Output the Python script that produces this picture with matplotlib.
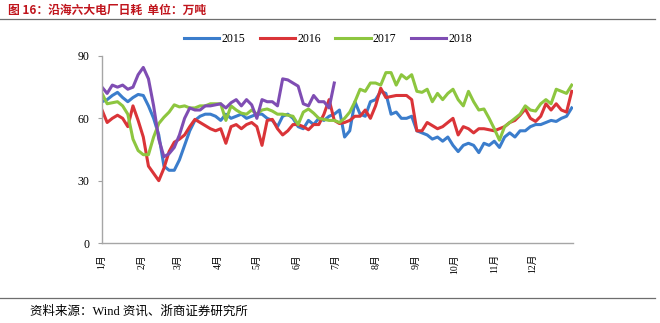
import matplotlib
matplotlib.use('Agg')
import matplotlib.pyplot as plt
from matplotlib.lines import Line2D

# day-of-year sample points (every 4 days)
days = list(range(0, 365, 4))
days_2018 = list(range(0, 181, 4))

coal_2015 = [68, 69, 71, 72.5, 70, 68, 70, 71.5, 71, 66, 60, 52, 37, 35, 35, 40,
             47, 54, 59, 61, 62, 62, 61, 59, 62, 60, 61, 62, 60, 61, 62, 62,
             60, 59, 56, 61, 62, 60, 56, 55, 59, 57, 60, 59, 61, 62, 64, 51,
             54, 68, 62, 61, 68, 69, 73, 72, 62, 63, 60, 60, 61, 54, 53, 52,
             50, 51, 49, 51, 47, 44, 47, 48, 47, 43.5, 48, 47, 49, 46, 51, 53,
             51, 54, 54, 56, 57, 57, 58, 59, 58.5, 60, 61, 65]

coal_2016 = [64, 58, 60, 61.5, 60, 56, 66, 59, 51, 37, 33.5, 30, 36, 44, 48.5, 50,
             52, 56, 59.5, 58, 56.5, 55, 54, 55, 48, 56, 57, 55, 57, 58, 56, 47,
             59, 59.5, 55, 52, 54, 57, 57, 56, 54.5, 57, 57, 62, 69, 59, 57.5, 58,
             59, 61, 61, 64, 60, 66, 74.5, 70, 70.5, 71, 71, 71, 69, 54, 54, 58,
             56.5, 55, 56, 58, 60, 52, 56, 55, 53, 55, 55, 54.5, 54, 55, 56, 58,
             59, 61.5, 64.5, 60, 58.5, 61, 67, 64, 67, 64, 63, 73]

coal_2017 = [72, 67, 67.5, 68, 66, 62, 50, 44.5, 42.5, 42.5, 51, 57.5, 60.5, 63, 66.5, 65.5,
             66, 65, 65, 66, 66, 67, 67, 67, 59, 66, 64, 62.5, 62, 64, 62, 64,
             64.5, 63.5, 62, 62, 61.5, 61, 57, 63, 64.5, 62.5, 60, 59.5, 59, 59, 58, 60,
             63, 68, 74, 73, 77, 77, 76, 82, 82, 76, 81, 79, 81, 73, 72.5, 74,
             68, 72, 69, 72, 74, 69, 66, 73, 68, 64, 64.5, 60, 55, 49.5, 56, 58,
             60, 62, 66, 64, 63.5, 67, 69, 67, 74, 73, 72, 76]

coal_2018 = [75, 72, 76, 75, 76, 74, 75, 81, 84.5, 79, 66, 50, 41.5, 43, 46, 52,
             60, 65, 64, 64, 66, 66, 66.5, 67, 65, 67.5, 69, 66, 69, 66.5, 60, 69,
             68, 68, 66, 79, 78.5, 77, 75.5, 67, 66, 71, 68, 68, 65, 77]

month_starts = [0, 31, 59, 90, 120, 151, 181, 212, 243, 273, 304, 334]
month_labels = ['1月', '2月', '3月', '4月', '5月', '6月',
                '7月', '8月', '9月', '10月', '11月', '12月']

serif_cjk = ['Liberation Serif', 'Noto Sans CJK SC']

fig = plt.figure(figsize=(6.6, 3.23), dpi=100)
ax = fig.add_axes([102/660, 1-243/323, (573-102)/660, (243-56)/323])

lw = 2.2
ax.plot(days, coal_2015, color='#3B7DCC', lw=lw, label='2015')
ax.plot(days, coal_2016, color='#DA3438', lw=lw, label='2016')
ax.plot(days, coal_2017, color='#8DC63F', lw=lw, label='2017')
ax.plot(days_2018, coal_2018, color='#7F4DB3', lw=lw, label='2018')

ax.set_xlim(0, 365)
ax.set_ylim(0, 90)
ax.set_yticks([0, 30, 60, 90])
ax.set_xticks(month_starts)
ax.set_xticklabels(month_labels, rotation=90, fontsize=7, family=serif_cjk)
ax.tick_params(axis='x', length=0, pad=8)
ax.tick_params(axis='y', length=3, color='#A0A0A0', pad=6, labelsize=8.5)
for lab in ax.get_yticklabels():
    lab.set_family('Liberation Serif')

for s in ['top', 'right']:
    ax.spines[s].set_visible(False)
for s in ['left', 'bottom']:
    ax.spines[s].set_color('#A6A6A6')
    ax.spines[s].set_linewidth(1.0)

fig.legend(loc='center', bbox_to_anchor=(0.497, 1-39/323), ncol=4, frameon=False,
           prop={'family': 'Liberation Serif', 'size': 8.5},
           handlelength=3.0, handletextpad=0.2, columnspacing=1.2)

fig.text(8/660, 1-10/323, '图 16：沿海六大电厂日耗  单位：万吨', color='#C0141C',
         fontsize=8.5, fontweight='bold', family='Noto Sans CJK SC', va='center', ha='left')
fig.add_artist(Line2D([0, 655/660], [1-19/323, 1-19/323], color='#6E6E6E', lw=0.9))
fig.add_artist(Line2D([0, 655/660], [1-298/323, 1-298/323], color='#6E6E6E', lw=0.9))
fig.text(30/660, 1-311/323, '资料来源：Wind 资讯、浙商证券研究所', fontsize=9,
         family=serif_cjk, va='center', ha='left')

fig.savefig('out.png', dpi=100)
